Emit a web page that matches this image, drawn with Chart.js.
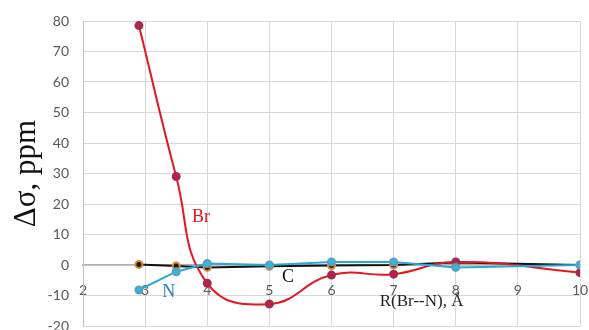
<!DOCTYPE html>
<html>
<head>
<meta charset="utf-8">
<script src="https://cdn.jsdelivr.net/npm/chart.js@4"></script>
<style>
  html, body { margin: 0; padding: 0; background: #fff; }
  #wrap { width: 589px; height: 330px; }
</style>
</head>
<body>
<div id="wrap"><canvas id="myShiftChart"></canvas></div>
<script>
// R(Br--N) distances, Å
const distances = [2.9, 3.5, 4, 5, 6, 7, 8, 10];
// chemical shift change, ppm
const brValues = [78.5, 29, -6, -12.8, -3.3, -3, 1, -2.5];
const cValues = [0.2, -0.3, -0.8, -0.4, -0.2, 0, 0.8, 0];
const nValues = [-8.2, -2.2, 0.5, 0, 1, 1, -0.8, 0];

// series name labels, anchored in data units
const seriesLabels = ["Br", "C", "N"];
const labelAnchors = [[3.9, 15.5], [5.3, -4], [3.38, -9]];
const labelColors = ["#e4141e", "#111111", "#2a7fb8"];

const toPoints = (vals) => distances.map((x, i) => ({ x, y: vals[i] }));

const GRID = "#d9d9d9";
const TICK_COLOR = "#595959";
const serif = "'Liberation Serif', 'DejaVu Serif', serif";

const textPlugin = {
  id: "seriesText",
  afterDatasetsDraw(chart) {
    const { ctx, scales } = chart;
    ctx.save();
    ctx.textAlign = "center";
    ctx.textBaseline = "middle";
    ctx.font = "18px " + serif;
    seriesLabels.forEach((txt, i) => {
      ctx.fillStyle = labelColors[i];
      ctx.fillText(txt, scales.x.getPixelForValue(labelAnchors[i][0]),
        scales.y.getPixelForValue(labelAnchors[i][1]));
    });
    ctx.fillStyle = "#222";
    ctx.font = "17px " + serif;
    ctx.fillText("R(Br--N), Å", scales.x.getPixelForValue(7.45), scales.y.getPixelForValue(-12));
    ctx.restore();
  },
};

const ctx = document.getElementById("myShiftChart").getContext("2d");
new Chart(ctx, {
  type: "scatter",
  data: {
    datasets: [
      {
        label: "N",
        data: toPoints(nValues),
        showLine: true,
        borderColor: "#27a9d8",
        backgroundColor: "#33b7de",
        pointBorderColor: "#5c9fb8",
        borderWidth: 2,
        pointRadius: 3.5,
        order: 0,
      },
      {
        label: "Br",
        data: toPoints(brValues),
        showLine: true,
        tension: 0.45,
        borderColor: "#e8141e",
        backgroundColor: "#c01c4c",
        pointBorderColor: "#9a3050",
        borderWidth: 2,
        pointRadius: 3.5,
        order: 1,
      },
      {
        label: "C",
        data: toPoints(cValues),
        showLine: true,
        borderColor: "#111111",
        backgroundColor: "#1a1a1a",
        pointBorderColor: "#d98a3a",
        borderWidth: 2,
        pointRadius: 3.5,
        order: 2,
      },
    ],
  },
  options: {
    responsive: true,
    maintainAspectRatio: false,
    animation: false,
    layout: { padding: { top: 21, right: 9, bottom: 4, left: 0 }, autoPadding: false },
    plugins: { legend: { display: false }, tooltip: { enabled: false } },
    scales: {
      x: {
        type: "linear",
        position: { y: 0 },
        min: 2,
        max: 10,
        afterFit(axis) {
          axis.height = 0;
          axis.paddingLeft = 0;
          axis.paddingRight = 0;
        },
        ticks: {
          stepSize: 1,
          color: TICK_COLOR,
          padding: 17,
          font: { family: "Lato, 'Open Sans', sans-serif", size: 14 },
        },
        grid: { color: GRID, drawTicks: false },
        border: { color: "#b0b0b0", width: 1.5 },
      },
      y: {
        min: -20,
        max: 80,
        afterFit(axis) {
          axis.width = 83;
          axis.paddingTop = 0;
          axis.paddingBottom = 0;
        },
        ticks: {
          stepSize: 10,
          color: TICK_COLOR,
          padding: 14,
          font: { family: "Lato, 'Open Sans', sans-serif", size: 14 },
        },
        grid: { color: GRID, drawTicks: false },
        border: { color: "#bfbfbf" },
        title: {
          display: true,
          text: "Δσ, ppm",
          color: "#111",
          font: { family: serif, size: 31 },
          padding: { top: 8, bottom: 0 },
        },
      },
    },
  },
  plugins: [textPlugin],
});
</script>
</body>
</html>
